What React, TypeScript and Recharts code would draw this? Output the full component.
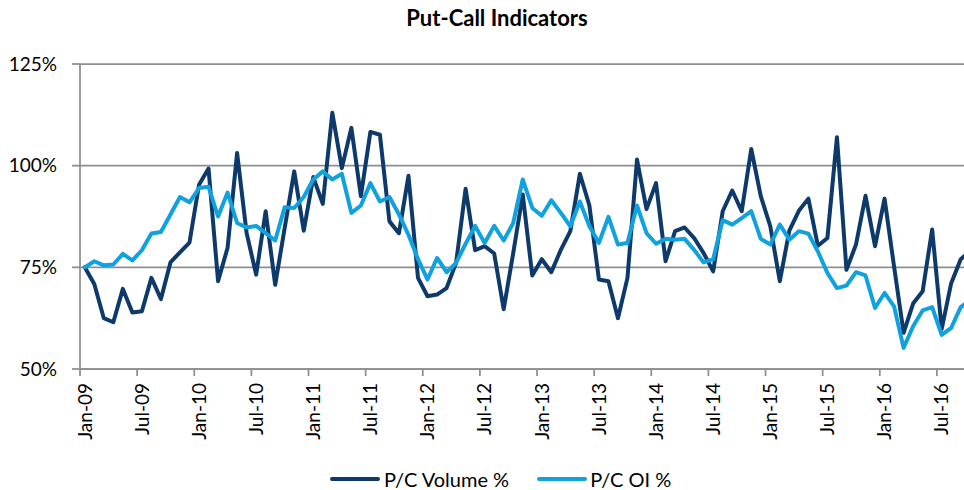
import React from 'react';
import { LineChart, Line, XAxis, YAxis, CartesianGrid } from 'recharts';

const MONTHS = ['Jan', 'Feb', 'Mar', 'Apr', 'May', 'Jun', 'Jul', 'Aug', 'Sep', 'Oct', 'Nov', 'Dec'];
const YEARS = ['09', '10', '11', '12', '13', '14', '15', '16'];
const categories = YEARS.flatMap((y) => MONTHS.map((m) => `${m}-${y}`)).slice(0, 94);

const xTickLabels = [
  'Jan-09', 'Jul-09', 'Jan-10', 'Jul-10', 'Jan-11', 'Jul-11', 'Jan-12', 'Jul-12',
  'Jan-13', 'Jul-13', 'Jan-14', 'Jul-14', 'Jan-15', 'Jul-15', 'Jan-16', 'Jul-16',
];
const yTicks = [50, 75, 100, 125];

const pcVolume = [
  75.0, 70.9, 62.5, 61.5, 69.7, 63.9, 64.2, 72.4, 67.2, 76.2, 78.7, 81.1,
  95.3, 99.3, 71.6, 79.8, 103.1, 83.4, 73.2, 88.8, 70.7, 84.7, 98.6, 84.0,
  97.2, 90.6, 113.0, 99.4, 109.3, 92.5, 108.3, 107.6, 86.3, 83.4, 97.5, 72.4,
  67.9, 68.3, 69.9, 76.1, 94.3, 79.2, 80.2, 78.4, 64.7, 78.5, 92.9, 73.0,
  77.0, 73.8, 79.3, 83.9, 98.0, 90.2, 72.0, 71.6, 62.5, 72.4, 101.5, 89.3,
  95.7, 76.5, 83.9, 84.8, 82.2, 78.5, 74.0, 88.8, 93.9, 88.8, 104.1, 92.5,
  85.1, 71.6, 84.0, 88.9, 91.9, 80.3, 82.2, 107.0, 74.4, 80.6, 92.6, 80.2,
  91.9, 75.2, 58.9, 66.1, 69.1, 84.3, 59.8, 71.1, 77.0, 79.0,
];

const pcOI = [
  75.0, 76.5, 75.5, 75.7, 78.3, 76.7, 79.2, 83.3, 83.7, 88.0, 92.3, 91.0,
  94.5, 94.8, 87.5, 93.4, 85.9, 84.8, 85.2, 83.4, 81.6, 89.8, 89.6, 92.3,
  96.6, 98.6, 96.6, 98.0, 88.4, 90.2, 95.7, 91.2, 92.3, 88.0, 83.0, 77.0,
  72.0, 77.3, 73.8, 76.1, 80.8, 85.2, 81.0, 85.2, 81.6, 85.9, 96.6, 89.6,
  87.7, 91.5, 88.4, 85.1, 91.2, 85.1, 81.0, 87.4, 80.6, 81.0, 90.2, 83.4,
  80.8, 82.0, 81.8, 82.0, 79.3, 76.2, 77.0, 86.6, 85.5, 87.1, 88.8, 82.0,
  80.6, 85.5, 81.8, 83.9, 83.3, 78.9, 73.6, 69.9, 70.5, 73.8, 73.0, 65.0,
  68.7, 65.4, 55.2, 60.5, 64.4, 65.2, 58.4, 60.1, 65.2, 67.0,
];

// each month is plotted at the middle of its slot on a month-index axis
const data = categories.map((label, i) => ({
  m: i + 0.5,
  label,
  vol: pcVolume[i],
  oi: pcOI[i],
}));
const xTicks = xTickLabels.map((_, i) => i * 6);

const DARK = '#0D3A6B';
const LIGHT = '#10A2DE';
const GRID = '#8E8E8E';
const FONT = 'Lato, "Open Sans", sans-serif';

const XTick = (props: any) => {
  const { x, y, payload } = props;
  const label = xTickLabels[Math.round(payload.value / 6)];
  return (
    <text
      x={0}
      y={0}
      transform={`translate(${x + 4},${y}) rotate(-90)`}
      textAnchor="end"
      dominantBaseline="central"
      fontSize={19}
      fontFamily={FONT}
      fill="#000"
    >
      {label}
    </text>
  );
};

export default function App() {
  return (
    <div
      style={{
        position: 'absolute',
        left: 0,
        top: 0,
        width: 964,
        height: 490,
        overflow: 'hidden',
        background: '#fff',
        fontFamily: FONT,
      }}
    >
      <div
        style={{
          position: 'absolute',
          left: 497,
          top: 4,
          transform: 'translateX(-50%)',
          fontSize: 22,
          fontWeight: 700,
          color: '#000',
          whiteSpace: 'nowrap',
        }}
      >
        Put-Call Indicators
      </div>
      <LineChart
        width={975}
        height={490}
        data={data}
        margin={{ top: 64, right: 0, bottom: 0, left: 0 }}
      >
        <CartesianGrid vertical={false} stroke={GRID} strokeWidth={1.75} />
        <XAxis
          dataKey="m"
          type="number"
          domain={[0, 94]}
          ticks={xTicks}
          interval={0}
          height={121}
          tickSize={7}
          tickMargin={7}
          tick={<XTick />}
          axisLine={{ stroke: GRID, strokeWidth: 1.75 }}
          tickLine={{ stroke: GRID, strokeWidth: 1.75 }}
          allowDataOverflow
        />
        <YAxis
          type="number"
          domain={[50, 125]}
          ticks={yTicks}
          interval={0}
          width={80}
          tickSize={8}
          tickMargin={15}
          tickFormatter={(v: number) => `${v}%`}
          tick={{ fontSize: 19, fontFamily: FONT, fill: '#000' }}
          axisLine={{ stroke: GRID, strokeWidth: 1.75 }}
          tickLine={{ stroke: GRID, strokeWidth: 1.75 }}
          allowDataOverflow
        />
        <Line
          type="linear"
          dataKey="vol"
          stroke={DARK}
          strokeWidth={4}
          strokeLinejoin="round"
          strokeLinecap="round"
          dot={false}
          activeDot={false}
          isAnimationActive={false}
        />
        <Line
          type="linear"
          dataKey="oi"
          stroke={LIGHT}
          strokeWidth={4}
          strokeLinejoin="round"
          strokeLinecap="round"
          dot={false}
          activeDot={false}
          isAnimationActive={false}
        />
      </LineChart>
      <div
        style={{
          position: 'absolute',
          left: 330,
          top: 466,
          height: 26,
          display: 'flex',
          alignItems: 'center',
          fontSize: 20,
          color: '#000',
          whiteSpace: 'nowrap',
        }}
      >
        <span style={{ display: 'inline-block', width: 50, height: 4, borderRadius: 2, background: DARK }} />
        <span style={{ marginLeft: 4 }}>P/C Volume %</span>
        <span style={{ display: 'inline-block', width: 50, height: 4, borderRadius: 2, background: LIGHT, marginLeft: 28 }} />
        <span style={{ marginLeft: 3 }}>P/C OI %</span>
      </div>
    </div>
  );
}
